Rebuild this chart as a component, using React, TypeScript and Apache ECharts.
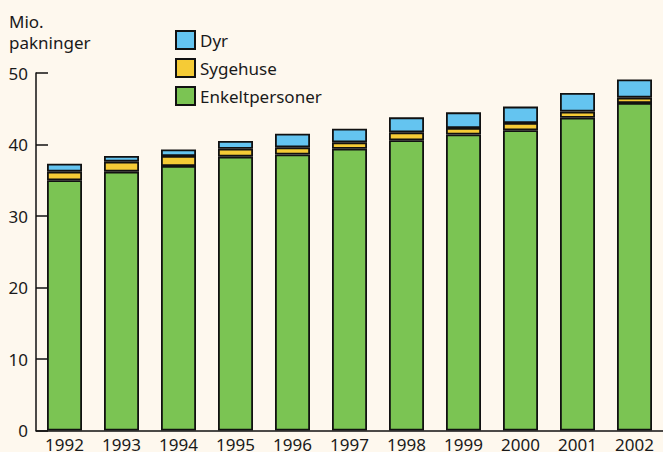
import React, { useEffect, useRef } from "react";
import * as echarts from "echarts";

const years = ["1992", "1993", "1994", "1995", "1996", "1997", "1998", "1999", "2000", "2001", "2002"];
const enkeltpersoner = [35.0, 36.2, 37.0, 38.3, 38.6, 39.4, 40.6, 41.4, 42.0, 43.75, 45.8];
const sygehuse = [1.2, 1.4, 1.4, 1.1, 1.0, 0.9, 1.1, 0.9, 1.0, 0.85, 0.75];
const dyr = [1.1, 0.8, 0.9, 1.1, 1.9, 1.9, 2.1, 2.2, 2.3, 2.6, 2.55];
const yTicks = [0, 10, 20, 30, 40, 50];

const FONT = "'Noto Sans', 'Open Sans', sans-serif";
const TEXT = "#1a1a1a";

export default function App() {
  const ref = useRef<HTMLDivElement>(null);
  useEffect(() => {
    document.body.style.margin = "0";
    const chart = echarts.init(ref.current!, null, { renderer: "svg" });
    const border = { borderColor: "#111", borderWidth: 1.8 };
    chart.setOption({
      animation: false,
      backgroundColor: "#FEF8EE",
      textStyle: { fontFamily: FONT, color: TEXT },
      grid: { left: 36, right: 0, top: 73, bottom: 21.5, containLabel: false, outerBoundsMode: "none" },
      legend: {
        orient: "vertical",
        left: 170,
        top: 25,
        itemWidth: 19,
        itemHeight: 18,
        itemGap: 8,
        icon: "rect",
        data: ["Dyr", "Sygehuse", "Enkeltpersoner"],
        textStyle: { fontFamily: FONT, fontSize: 17, color: TEXT },
      },
      graphic: [
        {
          type: "text",
          left: 9,
          top: 11,
          style: {
            text: "Mio.\npakninger",
            font: `17px ${FONT}`,
            fill: TEXT,
            lineHeight: 21,
          },
        },
      ],
      xAxis: {
        type: "category",
        data: years,
        axisLine: { show: true, lineStyle: { color: "#111", width: 1.5 } },
        axisTick: { show: false },
        axisLabel: { fontSize: 17, color: TEXT, fontFamily: FONT, margin: 5, interval: 0 },
      },
      yAxis: {
        type: "value",
        min: 0,
        max: 50,
        interval: 10,
        axisLine: { show: true, lineStyle: { color: "#111", width: 1.5 } },
        axisTick: { show: true, inside: true, length: 12, lineStyle: { color: "#111", width: 1.5 } },
        splitLine: { show: false },
        axisLabel: {
          fontSize: 17,
          color: TEXT,
          fontFamily: FONT,
          margin: 8,
          formatter: (v: number) => (yTicks.includes(v) ? String(v) : ""),
        },
      },
      series: [
        {
          name: "Enkeltpersoner",
          type: "bar",
          stack: "total",
          barWidth: 35,
          data: enkeltpersoner,
          itemStyle: { color: "#7BC453", ...border },
        },
        {
          name: "Sygehuse",
          type: "bar",
          stack: "total",
          barWidth: 35,
          data: sygehuse,
          itemStyle: { color: "#F5CB36", ...border },
        },
        {
          name: "Dyr",
          type: "bar",
          stack: "total",
          barWidth: 35,
          data: dyr,
          itemStyle: { color: "#64C4F0", ...border },
        },
      ],
    });
    return () => chart.dispose();
  }, []);
  return <div ref={ref} style={{ width: 663, height: 452 }} />;
}
